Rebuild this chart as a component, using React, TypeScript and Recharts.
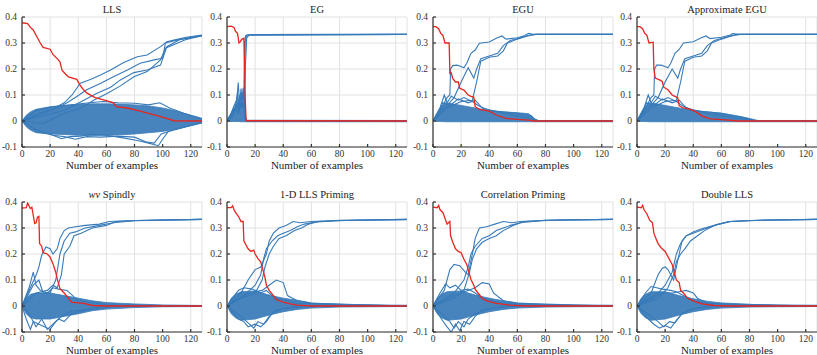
import React from "react";
import { ComposedChart, Line, Area, XAxis, YAxis, CartesianGrid } from "recharts";

type Pt = [number, number];
type Band = [number, number, number];

const BLUE = "#377ab9";
const RED = "#e8251f";
const AXIS = "#333333";
const FONT = "'Liberation Serif', 'DejaVu Serif', serif";

const xTicks = [0, 20, 40, 60, 80, 100, 120];
const yTicks = [-0.1, 0, 0.1, 0.2, 0.3, 0.4];
const yTickLabels = ["-0.1", "0", "0.1", "0.2", "0.3", "0.4"];
const xLabel = "Number of examples";

// ---- LLS ----
const llsRed: Pt[] = [[0,0.378],[4,0.375],[6,0.36],[8,0.35],[10,0.33],[13,0.3],[15,0.283],[20,0.276],[22,0.256],[25,0.24],[27,0.228],[28.5,0.195],[31,0.18],[33,0.17],[39,0.16],[41,0.14],[43,0.125],[46,0.108],[52,0.09],[60,0.078],[65,0.07],[67,0.055],[75,0.05],[84,0.038],[94,0.024],[103,0.01],[108,0.001],[128,0]];
const llsRise: Pt[][] = [
  [[0,0],[10,0.02],[20,0.04],[30,0.07],[35.6,0.1],[41.5,0.145],[48.6,0.16],[55.8,0.177],[63,0.196],[72,0.224],[82,0.247],[89,0.254],[98.5,0.286],[103,0.305],[108,0.311],[117,0.322],[128,0.331]],
  [[0,0],[12,0.03],[25,0.05],[32,0.07],[39,0.094],[46,0.12],[56,0.145],[65,0.17],[75,0.196],[84,0.222],[94,0.235],[100,0.241],[102,0.3],[110,0.311],[120,0.322],[128,0.33]],
  [[0,0],[15,0.02],[30,0.04],[44,0.08],[53,0.106],[63,0.13],[70,0.158],[79.5,0.186],[89,0.196],[98.5,0.215],[103,0.286],[112.7,0.314],[128,0.327]],
  [[0,0],[15,-0.01],[30,0.03],[42,0.05],[51,0.08],[60.5,0.106],[70,0.135],[79.5,0.17],[89,0.19],[98.5,0.235],[102,0.28],[117,0.314],[128,0.328]],
];
const llsStray: Pt[][] = [
  [[0,0],[10,-0.035],[20,-0.05],[28,-0.068],[34,-0.06],[42,-0.058],[50,-0.05],[60,-0.055],[72,-0.065],[82,-0.075],[90,-0.085],[97,-0.095],[100,-0.07],[104,-0.04],[115,-0.025],[128,-0.005]],
  [[0,0],[12,-0.04],[22,-0.055],[30,-0.06],[38,-0.07],[46,-0.06],[56,-0.062],[68,-0.058],[80,-0.062],[88,-0.08],[94,-0.085],[99,-0.05],[110,-0.03],[128,-0.006]],
  [[0,0],[10,0.04],[22,0.055],[35,0.062],[48,0.07],[58,0.075],[68,0.07],[80,0.068],[90,0.062],[98,0.07],[105,0.05],[115,0.03],[128,0.008]],
];
const llsBand: Band[] = [[0,0,0],[3,-0.022,0.022],[6,-0.035,0.035],[10,-0.045,0.045],[20,-0.05,0.055],[30,-0.052,0.06],[40,-0.055,0.063],[50,-0.056,0.066],[60,-0.055,0.066],[70,-0.053,0.065],[80,-0.05,0.062],[90,-0.045,0.058],[100,-0.04,0.05],[110,-0.03,0.038],[120,-0.018,0.022],[128,-0.008,0.01]];

// ---- EG ----
const egRed: Pt[] = [[0,0.363],[3,0.365],[5,0.36],[6,0.345],[7.5,0.337],[8.5,0.3],[9.5,0.305],[10.5,0.314],[12,0.318],[12.5,0.21],[13,0.08],[13.6,0.001],[128,0]];
const egRise: Pt[][] = [
  [[0,0],[2,0.01],[4,0.03],[6,0.05],[8,0.07],[10,0.08],[11,0.1],[12,0.11],[12.5,0.3],[13.2,0.328],[15,0.332],[128,0.333]],
  [[0,0],[3,0.015],[5,0.04],[7,0.06],[9,0.09],[11,0.07],[12.3,0.08],[13,0.31],[14,0.33],[128,0.333]],
  [[0,0],[4,0.02],[6,0.045],[8,0.03],[10,0.06],[12,0.05],[13,0.2],[14,0.32],[16,0.332],[128,0.333]],
];
const egStray: Pt[][] = [
  [[0,0],[3,0.03],[5,0.06],[7,0.08],[8,0.148],[9,0.06],[10,0.1],[11,0.08],[12,0.12],[13,0.01],[14,0],[128,0]],
  [[0,0],[4,0.04],[6,0.05],[7.5,0.11],[8.5,0.04],[10,0.125],[11,0.05],[12,0.09],[13,0.005],[14,0],[128,0]],
  [[0,0],[5,0.03],[7,0.09],[8,0.03],[9,0.1],[10,0.05],[11.5,0.128],[12.5,0.02],[14,0],[128,0]],
];
const egBand: Band[] = [[0,0,0.005],[2,-0.002,0.02],[4,-0.002,0.04],[6,-0.002,0.06],[8,-0.002,0.07],[10,-0.003,0.07],[12,-0.003,0.06],[13,-0.003,0.02],[14,-0.003,0.003],[128,-0.003,0.002]];

// ---- EGU ----
const eguRed: Pt[] = [[0,0.363],[2,0.363],[4,0.355],[5.5,0.337],[7,0.33],[8.5,0.3],[11.5,0.3],[12,0.183],[13,0.185],[14,0.164],[16,0.15],[18,0.15],[19,0.126],[22,0.119],[25,0.1],[27,0.095],[29,0.092],[30,0.055],[33,0.045],[40,0.038],[45,0.023],[52,0.01],[60,0.006],[68,0.003],[72,0],[128,0]];
const eguRise: Pt[][] = [
  [[0,0],[4,0.03],[8,0.07],[10,0.09],[12,0.1],[12.5,0.2],[14,0.213],[17,0.215],[20,0.21],[22,0.205],[24,0.222],[27,0.26],[30,0.273],[33,0.299],[40,0.304],[45,0.318],[49,0.327],[52,0.315],[60,0.32],[65,0.328],[68,0.337],[72,0.333],[128,0.333]],
  [[0,0],[6,0.04],[10,0.06],[15,0.09],[20,0.15],[25,0.205],[29,0.165],[31,0.2],[34,0.24],[40,0.25],[46,0.26],[50,0.29],[55,0.31],[62,0.32],[68,0.33],[74,0.333],[128,0.333]],
  [[0,0],[6,0.03],[10,0.05],[20,0.075],[28,0.08],[31,0.15],[34,0.23],[40,0.245],[46,0.25],[50,0.27],[53,0.3],[60,0.315],[66,0.325],[72,0.333],[128,0.333]],
];
const eguStray: Pt[][] = [
  [[0,0],[5,0.05],[8,0.1],[10,0.07],[13,0.095],[18,0.08],[22,0.09],[28,0.075],[32,0.06],[40,0.04],[60,0.03],[70,0.02],[73,0],[128,0]],
  [[0,0],[7,0.07],[12,0.06],[18,0.085],[25,0.07],[30,0.08],[35,0.05],[50,0.03],[70,0.01],[74,0],[128,0]],
];
const eguBand: Band[] = [[0,0,0],[3,-0.002,0.025],[6,-0.002,0.055],[9,-0.003,0.07],[15,-0.003,0.065],[20,-0.003,0.06],[30,-0.003,0.05],[40,-0.003,0.04],[50,-0.003,0.035],[60,-0.003,0.032],[68,-0.003,0.028],[72,-0.003,0.01],[75,-0.003,0.002],[128,-0.003,0.002]];

// ---- Approximate EGU ----
const aeguRed: Pt[] = [[0,0.363],[2,0.363],[4,0.355],[5.5,0.337],[7,0.33],[8.5,0.3],[11.5,0.303],[12,0.2],[13,0.165],[16,0.158],[18,0.152],[19,0.13],[22,0.12],[25,0.1],[27,0.095],[29,0.09],[30,0.058],[33,0.05],[38,0.045],[42,0.035],[46,0.02],[52,0.008],[60,0.005],[68,0.002],[72,0],[128,0]];
const aeguRise: Pt[][] = [
  [[0,0],[4,0.03],[8,0.07],[10,0.09],[12,0.1],[12.5,0.2],[14,0.215],[17,0.215],[20,0.21],[22,0.205],[24,0.222],[27,0.26],[30,0.275],[33,0.3],[40,0.305],[45,0.318],[49,0.327],[52,0.317],[60,0.322],[66,0.33],[68,0.336],[73,0.333],[128,0.333]],
  [[0,0],[6,0.04],[10,0.06],[15,0.09],[20,0.15],[25,0.2],[29,0.165],[31,0.2],[34,0.24],[40,0.25],[46,0.26],[50,0.29],[55,0.31],[62,0.32],[68,0.33],[74,0.333],[128,0.333]],
  [[0,0],[6,0.03],[10,0.05],[20,0.075],[28,0.08],[31,0.15],[34,0.23],[40,0.245],[46,0.25],[50,0.27],[53,0.3],[60,0.315],[66,0.325],[72,0.333],[128,0.333]],
];
const aeguStray: Pt[][] = [
  [[0,0],[5,0.05],[8,0.1],[10,0.07],[13,0.095],[18,0.08],[22,0.09],[28,0.075],[32,0.06],[40,0.04],[60,0.03],[75,0.015],[84,0],[128,0]],
  [[0,0],[7,0.07],[12,0.06],[18,0.085],[25,0.07],[30,0.08],[35,0.05],[50,0.03],[70,0.012],[86,0],[128,0]],
];
const aeguBand: Band[] = [[0,0,0],[3,-0.002,0.025],[6,-0.002,0.055],[9,-0.003,0.07],[15,-0.003,0.065],[20,-0.003,0.06],[30,-0.003,0.05],[40,-0.003,0.04],[50,-0.003,0.035],[60,-0.003,0.03],[70,-0.003,0.02],[80,-0.003,0.01],[86,-0.003,0.002],[128,-0.003,0.002]];

// ---- wv Spindly ----
const spRed: Pt[] = [[0,0.377],[3,0.378],[4,0.396],[5,0.385],[6,0.375],[7,0.38],[8,0.349],[9,0.317],[10,0.32],[11,0.342],[12,0.345],[12.5,0.24],[14,0.23],[15,0.205],[18,0.2],[20,0.188],[22,0.163],[24,0.13],[25,0.105],[27,0.067],[30,0.05],[33,0.03],[35,0.015],[40,0.012],[44,0.01],[50,0.002],[60,0],[128,0]];
const spRise: Pt[][] = [
  [[0,0],[5,0.06],[10,0.118],[12,0.15],[14,0.195],[17,0.227],[20,0.22],[22,0.2],[25,0.22],[27,0.26],[30,0.29],[33,0.3],[38,0.305],[45,0.31],[55,0.315],[62,0.325],[70,0.327],[90,0.33],[128,0.333]],
  [[0,0],[8,0.08],[12,0.1],[15,0.05],[20,0.05],[24,0.1],[27,0.2],[30,0.25],[34,0.28],[38,0.285],[45,0.3],[55,0.31],[65,0.32],[80,0.328],[128,0.333]],
  [[0,0],[10,0.05],[18,0.06],[22,0.08],[25,0.07],[28,0.12],[30,0.2],[34,0.23],[37,0.27],[42,0.28],[50,0.3],[60,0.31],[67,0.325],[80,0.329],[128,0.333]],
];
const spStray: Pt[][] = [
  [[0,0],[3,-0.05],[6,-0.09],[8,-0.06],[12,-0.07],[16,-0.08],[20,-0.09],[24,-0.06],[28,-0.04],[35,-0.02],[50,-0.01],[70,0],[128,0]],
  [[0,0],[5,-0.03],[10,-0.08],[14,-0.05],[18,-0.09],[22,-0.07],[26,-0.05],[30,-0.06],[35,-0.03],[50,-0.01],[70,0],[128,0]],
  [[0,0],[5,0.07],[8,0.13],[10,0.08],[13,0.06],[18,0.05],[22,0.07],[26,0.065],[32,0.06],[36,0.04],[40,0.02],[60,0.005],[128,0]],
];
const spBand: Band[] = [[0,0,0],[3,-0.03,0.03],[6,-0.045,0.045],[10,-0.05,0.05],[20,-0.05,0.05],[30,-0.04,0.04],[40,-0.03,0.03],[50,-0.018,0.02],[60,-0.012,0.013],[80,-0.006,0.008],[100,-0.003,0.004],[128,-0.002,0.002]];

// ---- 1-D LLS Priming ----
const p1Red: Pt[] = [[0,0.378],[3,0.378],[4,0.385],[5,0.37],[6,0.36],[8,0.346],[10,0.325],[11.5,0.325],[12,0.25],[15,0.22],[17,0.21],[19,0.215],[20,0.2],[22,0.182],[24,0.17],[25,0.15],[27,0.11],[28,0.08],[30,0.06],[33,0.04],[35,0.025],[40,0.015],[45,0.008],[50,0.003],[60,0],[128,0]];
const p1Rise: Pt[][] = [
  [[0,0],[10,0.05],[15,0.1],[20,0.14],[24,0.15],[28,0.2],[30,0.25],[33,0.28],[37,0.3],[42,0.31],[47,0.325],[52,0.32],[60,0.325],[80,0.33],[128,0.333]],
  [[0,0],[12,0.04],[20,0.08],[24,0.12],[26,0.18],[28,0.22],[32,0.25],[36,0.27],[40,0.28],[45,0.29],[50,0.305],[55,0.315],[62,0.322],[80,0.329],[128,0.332]],
  [[0,0],[10,0.03],[20,0.05],[25,0.1],[27,0.15],[30,0.2],[33,0.23],[37,0.26],[42,0.27],[48,0.29],[53,0.3],[58,0.315],[65,0.325],[90,0.33],[128,0.333]],
];
const p1Stray: Pt[][] = [
  [[0,0],[15,0.05],[25,0.06],[30,0.08],[35,0.1],[40,0.09],[43,0.04],[50,0.02],[60,0.01],[128,0]],
  [[0,0],[8,-0.05],[12,-0.06],[15,-0.08],[20,-0.07],[24,-0.08],[28,-0.06],[32,-0.03],[40,-0.01],[60,0],[128,0]],
  [[0,0],[10,-0.04],[16,-0.07],[19,-0.085],[22,-0.06],[26,-0.07],[30,-0.04],[35,-0.015],[50,0],[128,0]],
  [[0,0],[8,0.06],[12,0.07],[18,0.065],[24,0.05],[28,0.06],[34,0.03],[40,0.025],[50,0.01],[128,0]],
];
const p1Band: Band[] = [[0,0,0],[3,-0.03,0.03],[6,-0.045,0.045],[10,-0.055,0.055],[20,-0.05,0.058],[30,-0.035,0.042],[40,-0.022,0.03],[50,-0.013,0.022],[60,-0.008,0.012],[80,-0.004,0.006],[100,-0.003,0.004],[128,-0.002,0.003]];

// ---- Correlation Priming ----
const cpRed: Pt[] = [[0,0.38],[3,0.378],[4,0.387],[5,0.37],[7,0.36],[8,0.345],[10,0.315],[12,0.325],[12.5,0.27],[14,0.246],[16,0.22],[18,0.21],[20,0.205],[22,0.18],[24,0.16],[25,0.14],[27,0.102],[29,0.08],[30,0.065],[32,0.05],[35,0.03],[38,0.02],[45,0.01],[55,0.003],[65,0],[128,0]];
const cpRise: Pt[][] = [
  [[0,0],[8,0.06],[12,0.14],[15,0.16],[19,0.155],[23,0.13],[25,0.12],[28,0.2],[30,0.26],[33,0.3],[38,0.305],[44,0.315],[50,0.325],[56,0.32],[62,0.325],[80,0.33],[128,0.333]],
  [[0,0],[15,0.05],[22,0.1],[25,0.15],[27,0.2],[30,0.23],[35,0.26],[40,0.27],[45,0.29],[50,0.3],[55,0.31],[62,0.32],[80,0.33],[128,0.333]],
  [[0,0],[15,0.03],[22,0.06],[26,0.13],[28,0.18],[31,0.22],[35,0.245],[40,0.26],[45,0.27],[50,0.29],[57,0.31],[65,0.325],[90,0.331],[128,0.333]],
];
const cpStray: Pt[][] = [
  [[0,0],[15,0.04],[25,0.06],[30,0.07],[35,0.09],[40,0.085],[43,0.05],[50,0.02],[60,0.01],[128,0]],
  [[0,0],[6,-0.05],[10,-0.08],[13,-0.1],[16,-0.07],[19,-0.095],[22,-0.06],[26,-0.07],[30,-0.04],[35,-0.015],[50,0],[128,0]],
  [[0,0],[8,-0.04],[12,-0.06],[15,-0.085],[18,-0.06],[22,-0.08],[25,-0.05],[30,-0.03],[40,-0.01],[60,0],[128,0]],
  [[0,0],[5,0.05],[9,0.085],[12,0.07],[16,0.08],[20,0.06],[25,0.065],[30,0.05],[35,0.03],[45,0.015],[60,0.005],[128,0]],
];
const cpBand: Band[] = [[0,0,0],[3,-0.03,0.03],[6,-0.045,0.045],[10,-0.055,0.055],[20,-0.05,0.058],[30,-0.035,0.042],[40,-0.022,0.03],[50,-0.013,0.02],[60,-0.008,0.012],[80,-0.004,0.006],[100,-0.003,0.004],[128,-0.002,0.003]];

// ---- Double LLS ----
const dlRed: Pt[] = [[0,0.38],[3,0.378],[4,0.387],[5,0.37],[7,0.355],[9,0.33],[10,0.325],[11,0.32],[12,0.28],[13,0.265],[15,0.24],[17,0.225],[20,0.21],[22,0.19],[25,0.16],[27,0.12],[28,0.1],[30,0.09],[31,0.06],[33,0.05],[36,0.03],[40,0.02],[46,0.008],[55,0.002],[65,0],[128,0]];
const dlRise: Pt[][] = [
  [[0,0],[10,0.05],[15,0.12],[18,0.145],[20,0.15],[22,0.14],[24,0.12],[26,0.1],[28,0.15],[30,0.2],[32,0.25],[35,0.27],[40,0.28],[45,0.29],[50,0.3],[58,0.315],[67,0.325],[80,0.329],[128,0.333]],
  [[0,0],[15,0.05],[20,0.08],[25,0.13],[28,0.2],[31,0.24],[35,0.27],[40,0.285],[45,0.295],[55,0.31],[65,0.325],[90,0.33],[128,0.333]],
  [[0,0],[15,0.03],[22,0.07],[26,0.12],[28,0.17],[31,0.2],[34,0.22],[38,0.25],[43,0.27],[48,0.29],[55,0.31],[66,0.325],[90,0.331],[128,0.333]],
];
const dlStray: Pt[][] = [
  [[0,0],[18,0.05],[25,0.05],[30,0.055],[35,0.06],[40,0.05],[43,0.03],[50,0.01],[128,0]],
  [[0,0],[8,-0.05],[12,-0.07],[16,-0.085],[20,-0.075],[24,-0.085],[28,-0.055],[32,-0.03],[40,-0.01],[60,0],[128,0]],
  [[0,0],[10,-0.04],[15,-0.06],[19,-0.08],[23,-0.06],[27,-0.065],[31,-0.035],[36,-0.015],[50,0],[128,0]],
  [[0,0],[6,0.05],[10,0.075],[14,0.07],[18,0.065],[24,0.06],[28,0.055],[33,0.04],[40,0.02],[55,0.005],[128,0]],
];
const dlBand: Band[] = [[0,0,0],[3,-0.03,0.03],[6,-0.045,0.045],[10,-0.055,0.055],[20,-0.05,0.055],[30,-0.035,0.04],[40,-0.022,0.028],[50,-0.013,0.018],[60,-0.008,0.012],[80,-0.004,0.006],[100,-0.003,0.004],[128,-0.002,0.003]];

interface PanelSpec {
  title: React.ReactNode;
  red: Pt[];
  rise: Pt[][];
  stray: Pt[][];
  band: Band[];
  left: number; // plot area left, px
  top: number; // plot area top, px
}

const COLS = [22, 227, 433, 637];
const ROWS = [17, 202];

const panels: PanelSpec[] = [
  { title: "LLS", red: llsRed, rise: llsRise, stray: llsStray, band: llsBand, left: COLS[0], top: ROWS[0] },
  { title: "EG", red: egRed, rise: egRise, stray: egStray, band: egBand, left: COLS[1], top: ROWS[0] },
  { title: "EGU", red: eguRed, rise: eguRise, stray: eguStray, band: eguBand, left: COLS[2], top: ROWS[0] },
  { title: "Approximate EGU", red: aeguRed, rise: aeguRise, stray: aeguStray, band: aeguBand, left: COLS[3], top: ROWS[0] },
  { title: <span><i>wv</i> Spindly</span>, red: spRed, rise: spRise, stray: spStray, band: spBand, left: COLS[0], top: ROWS[1] },
  { title: "1-D LLS Priming", red: p1Red, rise: p1Rise, stray: p1Stray, band: p1Band, left: COLS[1], top: ROWS[1] },
  { title: "Correlation Priming", red: cpRed, rise: cpRise, stray: cpStray, band: cpBand, left: COLS[2], top: ROWS[1] },
  { title: "Double LLS", red: dlRed, rise: dlRise, stray: dlStray, band: dlBand, left: COLS[3], top: ROWS[1] },
];

// merge every series onto one table keyed by x
function buildRows(spec: PanelSpec) {
  const map = new Map<number, Record<string, any>>();
  const row = (x: number) => {
    if (!map.has(x)) map.set(x, { x });
    return map.get(x)!;
  };
  spec.band.forEach(([x, lo, hi]) => { row(x).band = [lo, hi]; });
  spec.stray.forEach((s, i) => s.forEach(([x, y]) => { row(x)[`s${i}`] = y; }));
  spec.rise.forEach((s, i) => s.forEach(([x, y]) => { row(x)[`r${i}`] = y; }));
  spec.red.forEach(([x, y]) => { row(x).red = y; });
  return [...map.values()].sort((a, b) => a.x - b.x);
}

const PLOT_W = 180;
const PLOT_H = 130;
const Y_AXIS_W = 30;

const tickStyle = { fill: AXIS, fontSize: 9.5, fontFamily: FONT };

const Panel: React.FC<{ spec: PanelSpec }> = ({ spec }) => {
  const rows = buildRows(spec);
  return (
    <>
      <div style={{ position: "absolute", left: spec.left, top: spec.top - 12, width: PLOT_W, textAlign: "center", fontFamily: FONT, fontSize: 10.5, lineHeight: "10px", color: "#222" }}>
        {spec.title}
      </div>
      <div style={{ position: "absolute", left: spec.left - Y_AXIS_W, top: spec.top - 17 }}>
        <ComposedChart width={Y_AXIS_W + PLOT_W + 5} height={17 + PLOT_H + 30} data={rows} margin={{ top: 17, right: 5, bottom: 0, left: 0 }}>
          <CartesianGrid stroke="#e2e2e2" strokeWidth={1} />
          <XAxis dataKey="x" type="number" domain={[0, 128]} ticks={xTicks} allowDataOverflow height={30} tickSize={-3} tickMargin={6.5} stroke={AXIS} strokeWidth={1.2} tick={tickStyle} />
          <XAxis xAxisId="top" orientation="top" dataKey="x" type="number" domain={[0, 128]} ticks={xTicks} allowDataOverflow height={0} tickSize={-3} tickFormatter={() => ""} stroke={AXIS} strokeWidth={1.2} />
          <YAxis type="number" domain={[-0.1, 0.4]} ticks={yTicks} allowDataOverflow width={Y_AXIS_W} tickSize={-3} tickMargin={8} stroke={AXIS} strokeWidth={1.2} tick={tickStyle} tickFormatter={(v: number) => yTickLabels[yTicks.findIndex((t) => Math.abs(t - v) < 1e-9)] ?? ""} />
          <YAxis yAxisId="right" orientation="right" type="number" domain={[-0.1, 0.4]} ticks={yTicks} allowDataOverflow width={0} tickSize={-3} tickFormatter={() => ""} stroke={AXIS} strokeWidth={1.2} />
          <Area dataKey="band" type="linear" stroke={BLUE} strokeWidth={0.8} fill={BLUE} fillOpacity={0.92} connectNulls dot={false} activeDot={false} isAnimationActive={false} />
          {spec.stray.map((_, i) => (
            <Line key={`s${i}`} dataKey={`s${i}`} type="linear" stroke={BLUE} strokeWidth={1.1} dot={false} activeDot={false} connectNulls isAnimationActive={false} />
          ))}
          {spec.rise.map((_, i) => (
            <Line key={`r${i}`} dataKey={`r${i}`} type="linear" stroke={BLUE} strokeWidth={1.1} dot={false} activeDot={false} connectNulls isAnimationActive={false} />
          ))}
          <Line dataKey="red" type="linear" stroke={RED} strokeWidth={1.3} dot={false} activeDot={false} connectNulls isAnimationActive={false} />
        </ComposedChart>
      </div>
      <div style={{ position: "absolute", left: spec.left, top: spec.top + PLOT_H + 13, width: PLOT_W, textAlign: "center", fontFamily: FONT, fontSize: 11, lineHeight: "10px", color: "#222" }}>
        {xLabel}
      </div>
    </>
  );
};

export default function App() {
  return (
    <div style={{ position: "fixed", left: 0, top: 0, width: 817, height: 355, background: "#fff", overflow: "hidden" }}>
      {panels.map((p, i) => (
        <Panel key={i} spec={p} />
      ))}
    </div>
  );
}
